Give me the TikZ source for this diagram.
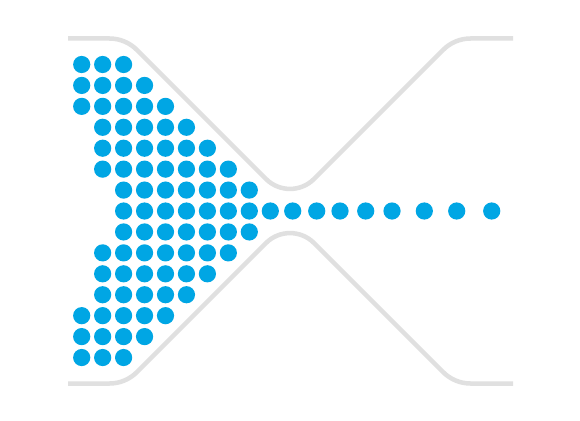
\documentclass[tikz,border=0pt]{standalone}
\definecolor{dotblue}{RGB}{0,166,228}
\definecolor{wallgray}{RGB}{224,224,224}
\begin{document}
\begin{tikzpicture}[x=1pt,y=-1pt,
  wall/.style={draw=wallgray,line width=4.5pt},
  dot/.style={fill=dotblue}]
\useasboundingbox (0,0) rectangle (580,420);
\fill[white] (0,0) rectangle (580,420);
% top wall
\coordinate (tl) at (68,38.5);
\coordinate (tr) at (513,38.5);
\coordinate (bl) at (68,383.5);
\coordinate (br) at (513,383.5);
\draw[wall] (tl) -- (109.5,38.5) .. controls (119.7,38.5) and (129.6,42.6) .. (136.8,49.8)
  -- (265.96,178.96) .. controls (279.24,192.24) and (300.76,192.24) .. (314.04,178.96)
  -- (443.2,49.8) .. controls (450.4,42.6) and (460.3,38.5) .. (470.5,38.5) -- (tr);
% bottom wall
\draw[wall] (bl) -- (109.5,383.5) .. controls (119.7,383.5) and (129.6,379.4) .. (136.8,372.2)
  -- (265.96,243.04) .. controls (279.24,229.76) and (300.76,229.76) .. (314.04,243.04)
  -- (443.2,372.2) .. controls (450.4,379.4) and (460.3,383.5) .. (470.5,383.5) -- (br);
% dot grid
\foreach \r/\a/\b in {0/0/2,1/0/3,2/0/4,3/1/5,4/1/6,5/1/7,6/2/8,7/2/8,8/2/8,9/1/7,10/1/6,11/1/5,12/0/4,13/0/3,14/0/2}
  \foreach \c in {\a,...,\b}
    \fill[dot] ({81.7+20.95*\c},{64.5+20.93*\r}) circle (8.6pt);
% outflow line
\foreach \x in {270.3,292.7,316.7,340,365.7,392,424.3,456.7,491.7}
  \fill[dot] (\x,211) circle (8.6pt);
\end{tikzpicture}
\end{document}
